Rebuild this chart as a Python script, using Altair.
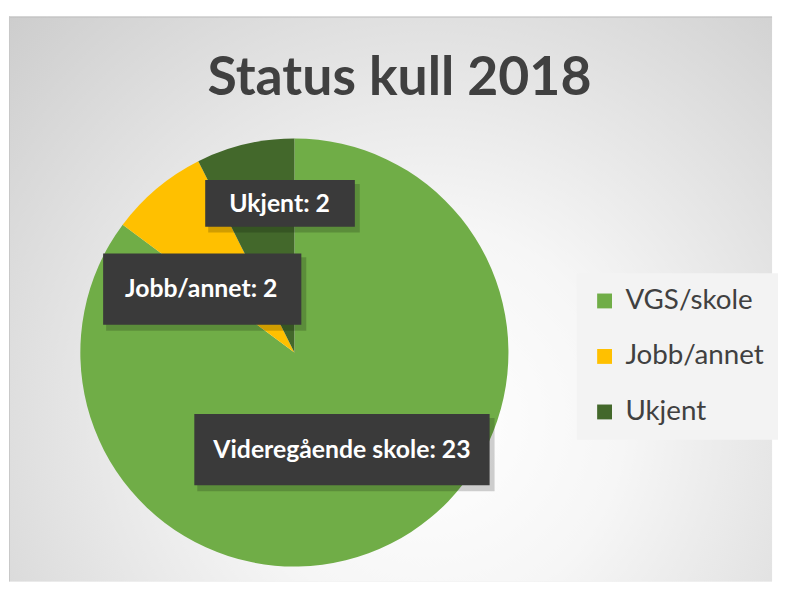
import altair as alt
import pandas as pd

# ---- data ----
categories = ["VGS/skole", "Jobb/annet", "Ukjent"]
counts = [23, 2, 2]
label_names = ["Videregående skole", "Jobb/annet", "Ukjent"]
colors = ["#70AD47", "#FFC000", "#43682B"]
title_text = "Status kull 2018"

# ---- layout (annotation boxes: left, right, top, bottom; text centre) ----
W, H = 770, 576
pie_cx, pie_cy, pie_r = 288, 345, 216
box_left = [187, 95, 198]
box_right = [485, 295, 349]
box_top = [407, 245, 171]
box_bottom = [479, 317, 218]
text_x = [336, 194, 273]
text_y = [443, 281, 195]

df = pd.DataFrame({
    "kategori": categories,
    "antall": counts,
    "rekkefolge": list(range(len(categories))),
})
one = pd.DataFrame({"a": [0]})

bg = alt.Chart(one).mark_rect(
    color=alt.RadialGradient(
        gradient="radial", x1=0.55, y1=0.66, r1=0, x2=0.55, y2=0.66, r2=0.85,
        stops=[alt.GradientStop(color="#ffffff", offset=0),
               alt.GradientStop(color="#f6f6f6", offset=0.3),
               alt.GradientStop(color="#c6c6c6", offset=1)]),
).encode(x=alt.value(0), x2=alt.value(W), y=alt.value(6), y2=alt.value(H))

top_line = alt.Chart(one).mark_rule(color="#bdbdbd", strokeWidth=1).encode(
    x=alt.value(0), x2=alt.value(W), y=alt.value(6.5))
left_line = alt.Chart(one).mark_rule(color="#c8c8c8", strokeWidth=1).encode(
    x=alt.value(0.5), y=alt.value(6), y2=alt.value(H))

title = alt.Chart(one).mark_text(
    text=title_text, font="Lato", fontWeight="bold", fontSize=54,
    color="#404040", align="center", baseline="alphabetic",
).encode(x=alt.value(394), y=alt.value(85))

pie = alt.Chart(df).mark_arc(radius=pie_r).encode(
    theta=alt.Theta("antall:Q", stack=True),
    order=alt.Order("rekkefolge:Q"),
    color=alt.Color(
        "kategori:N",
        scale=alt.Scale(domain=categories, range=colors),
        sort=categories,
        legend=alt.Legend(
            title=None, orient="none", legendX=573, legendY=265,
            fillColor="#f3f3f3", padding=14, symbolType="square",
            symbolSize=225, symbolStrokeWidth=0, symbolOpacity=1,
            labelFont="Lato", labelFontSize=28, labelColor="#404040",
            rowPadding=28, labelOffset=7, labelLimit=300,
        ),
    ),
    x=alt.value(pie_cx), y=alt.value(pie_cy),
)

layers = [bg, top_line, left_line, title, pie]
for i, (name, val) in enumerate(zip(label_names, counts)):
    shadow = alt.Chart(one).mark_rect(color="#000000", opacity=0.18).encode(
        x=alt.value(box_left[i] + 3), x2=alt.value(box_right[i] + 5),
        y=alt.value(box_top[i] + 4), y2=alt.value(box_bottom[i] + 6))
    box = alt.Chart(one).mark_rect(color="#3a3a3a").encode(
        x=alt.value(box_left[i]), x2=alt.value(box_right[i]),
        y=alt.value(box_top[i]), y2=alt.value(box_bottom[i]))
    txt = alt.Chart(one).mark_text(
        text=f"{name}: {val}", font="Lato", fontWeight="bold", fontSize=25,
        color="#ffffff", align="center", baseline="middle",
    ).encode(x=alt.value(text_x[i]), y=alt.value(text_y[i]))
    layers += [shadow, box, txt]

chart = alt.layer(*layers).properties(
    width=W, height=H, padding=0, background="#ffffff"
).configure_view(stroke=None)

chart.save("out.html", embed_options={"renderer": "svg", "actions": False})
